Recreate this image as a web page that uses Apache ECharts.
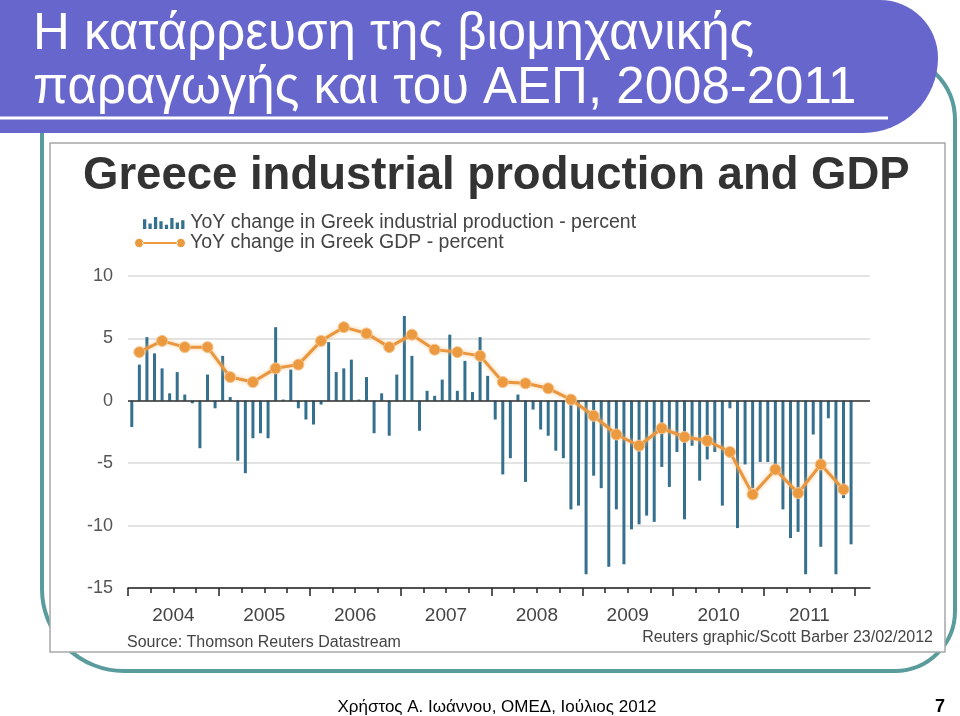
<!DOCTYPE html>
<html><head><meta charset="utf-8">
<script src="https://cdn.jsdelivr.net/npm/echarts@6/dist/echarts.min.js"></script>
<style>html,body{margin:0;padding:0;background:#fff}#c{width:960px;height:716px}</style>
</head><body><div id="c"></div>
<script>
// ---- data ----
const yearLabels = ['2004','2005','2006','2007','2008','2009','2010','2011'];
const ipName = 'YoY change in Greek industrial production - percent';
const gdpName = 'YoY change in Greek GDP - percent';
// monthly YoY change in industrial production, Jan 2004 - Dec 2011
const ip2004 = [-2.1, 2.9, 5.1, 3.8, 2.6, 0.6, 2.3, 0.5, -0.2, -3.8, 2.1, -0.6];
const ip2005 = [3.6, 0.3, -4.8, -5.8, -3.0, -2.6, -3.0, 5.9, 0.1, 2.5, -0.6, -1.5];
const ip2006 = [-1.9, -0.3, 4.7, 2.3, 2.6, 3.3, 0.1, 1.9, -2.6, 0.6, -2.8, 2.1];
const ip2007 = [6.8, 3.6, -2.4, 0.8, 0.4, 1.7, 5.3, 0.8, 3.2, 0.7, 5.1, 2.0];
const ip2008 = [-1.5, -5.9, -4.6, 0.5, -6.5, -0.7, -2.3, -2.8, -4.0, -4.6, -8.7, -8.4];
const ip2009 = [-13.9, -6.0, -7.0, -13.3, -8.7, -13.1, -10.3, -9.9, -9.2, -9.7, -5.3, -6.9];
const ip2010 = [-4.1, -9.5, -3.6, -6.4, -4.7, -4.1, -8.4, -0.6, -10.2, -5.1, -7.0, -4.9];
const ip2011 = [-4.9, -5.6, -8.7, -11.0, -10.5, -13.9, -2.7, -11.7, -1.4, -13.9, -7.8, -11.5];
// quarterly YoY change in GDP, Q1 2004 - Q4 2011
const gdpValues = [3.9, 4.8, 4.3, 4.3, 1.9, 1.5, 2.6, 2.9, 4.8, 5.9, 5.4, 4.3, 5.3, 4.1, 3.9, 3.6,
                   1.5, 1.4, 1.0, 0.1, -1.2, -2.7, -3.6, -2.2, -2.9, -3.2, -4.1, -7.5, -5.5, -7.4, -5.1, -7.1];
const yTicks = [-15, -10, -5, 0, 5, 10];

// ---- build ----
const ipValues = [].concat(ip2004, ip2005, ip2006, ip2007, ip2008, ip2009, ip2010, ip2011);
const ipData = ipValues.map((v, i) => [i + 0.5, v]);           // month i, centred in its month
const gdpData = gdpValues.map((v, q) => [q * 3 + 1.5, v]);      // quarter q, centred in its quarter
const yearTicks = yearLabels.map((y, i) => i * 12).concat([yearLabels.length * 12]);
const quarterTicks = [];
for (let m = 3; m < yearLabels.length * 12; m += 3) if (m % 12) quarterTicks.push(m);
const yearCenters = yearLabels.map((y, i) => i * 12 + 6);

const FONT = 'Liberation Sans, Arial, sans-serif';
const BAR = '#35708f', ORANGE = '#ec9a40';
const chart = echarts.init(document.getElementById('c'), null, {renderer: 'canvas'});

const barIcon = 'path://M0,3h3v9h-3zM5,7h3v5h-3zM10,1h3v11h-3zM15,5h3v7h-3zM20,8h3v4h-3zM25,2h3v10h-3zM30,6h3v6h-3zM35,4h3v8h-3z';
const lineIcon = 'path://M1,5a4,4 0 1,0 8,0a4,4 0 1,0 -8,0zM8,4h34v2h-34zM41,5a4,4 0 1,0 8,0a4,4 0 1,0 -8,0z';

chart.setOption({
  animation: false,
  backgroundColor: '#ffffff',
  grid: {left: 128, right: 90, top: 276, bottom: 128, containLabel: false},
  legend: [
    {data: [{name: ipName, itemStyle: {color: BAR, borderWidth: 0}}], left: 138, top: 208,
     itemWidth: 43, itemHeight: 12, icon: barIcon,
     textStyle: {color: '#444', fontSize: 19.5, fontFamily: FONT}, itemGap: 4},
    {data: [{name: gdpName, itemStyle: {color: ORANGE, borderWidth: 0}}], left: 130, top: 228,
     itemWidth: 50, itemHeight: 10, icon: lineIcon,
     textStyle: {color: '#444', fontSize: 19.5, fontFamily: FONT}, itemGap: 4}
  ],
  xAxis: [
    {type: 'value', min: 0, max: 98, position: 'bottom',
     axisLine: {show: true, onZero: false, lineStyle: {color: '#222', width: 1.5}},
     axisTick: {show: true, customValues: quarterTicks, length: 5, lineStyle: {color: '#222', width: 1.5}},
     axisLabel: {show: false}, splitLine: {show: false}},
    {type: 'value', min: 0, max: 98, position: 'bottom',
     axisLine: {show: false, onZero: false},
     axisTick: {show: true, customValues: yearTicks, length: 8, lineStyle: {color: '#222', width: 1.5}},
     axisLabel: {show: true, customValues: yearCenters, margin: 18, color: '#444', fontSize: 19, fontFamily: FONT,
       formatter: v => yearLabels[yearCenters.indexOf(v)]},
     splitLine: {show: false}}
  ],
  yAxis: {type: 'value', min: yTicks[0], max: yTicks[yTicks.length - 1], interval: 5,
    axisLine: {show: false}, axisTick: {show: false},
    axisLabel: {color: '#555', fontSize: 18, fontFamily: FONT, margin: 15},
    splitLine: {show: true, lineStyle: {color: '#dadada', width: 1.5}}},
  series: [
    {name: ipName, type: 'bar', xAxisIndex: 0, data: ipData, barWidth: 3,
     itemStyle: {color: BAR},
     markLine: {silent: true, symbol: 'none', label: {show: false},
       lineStyle: {color: '#333', width: 1.5, type: 'solid'}, data: [{yAxis: 0}]}},
    {name: gdpName, type: 'line', xAxisIndex: 0, data: gdpData, symbol: 'circle', symbolSize: 11,
     lineStyle: {color: '#e9963f', width: 3, shadowColor: 'rgba(245,195,130,0.9)', shadowBlur: 4},
     itemStyle: {color: ORANGE, borderColor: '#f5c189', borderWidth: 1}, z: 5}
  ],
  graphic: [
    {type: 'rect', z: -10, shape: {x: 42, y: 55, width: 913, height: 616, r: [60, 65, 60, 82]},
     style: {fill: 'none', stroke: '#5a9c9c', lineWidth: 4}},
    {type: 'rect', z: -5, shape: {x: 50, y: 143, width: 895, height: 509},
     style: {fill: '#ffffff', stroke: '#a8a8a8', lineWidth: 1.5}},
    {type: 'rect', z: 10, shape: {x: 0, y: 0, width: 938, height: 133, r: [0, 58, 75, 0]},
     style: {fill: '#6666cc'}},
    {type: 'line', z: 11, shape: {x1: 0, y1: 118, x2: 888, y2: 118}, style: {stroke: '#ffffff', lineWidth: 3}},
    {type: 'text', z: 11, x: 33, y: 35, style: {text: 'Η κατάρρευση της βιομηχανικής', fill: '#fff',
      font: '51px ' + FONT, verticalAlign: 'middle', align: 'left'}},
    {type: 'text', z: 11, x: 33, y: 89, style: {text: 'παραγωγής και του ΑΕΠ, 2008-2011', fill: '#fff',
      font: '51px ' + FONT, verticalAlign: 'middle', align: 'left'}},
    {type: 'text', z: 11, x: 83, y: 176, style: {text: 'Greece industrial production and GDP', fill: '#333',
      font: 'bold 45.5px ' + FONT, verticalAlign: 'middle', align: 'left'}},
    {type: 'text', z: 11, x: 127, y: 643, style: {text: 'Source: Thomson Reuters Datastream', fill: '#444',
      font: '16px ' + FONT, verticalAlign: 'middle', align: 'left'}},
    {type: 'text', z: 11, x: 933, y: 638, style: {text: 'Reuters graphic/Scott Barber 23/02/2012', fill: '#444',
      font: '16px ' + FONT, verticalAlign: 'middle', align: 'right'}},
    {type: 'text', z: 11, x: 497, y: 707, style: {text: 'Χρήστος Α. Ιωάννου, ΟΜΕΔ, Ιούλιος 2012', fill: '#000',
      font: '17px ' + FONT, verticalAlign: 'middle', align: 'center'}},
    {type: 'text', z: 11, x: 940, y: 707, style: {text: '7', fill: '#000',
      font: 'bold 18px ' + FONT, verticalAlign: 'middle', align: 'center'}}
  ]
});
</script></body></html>
